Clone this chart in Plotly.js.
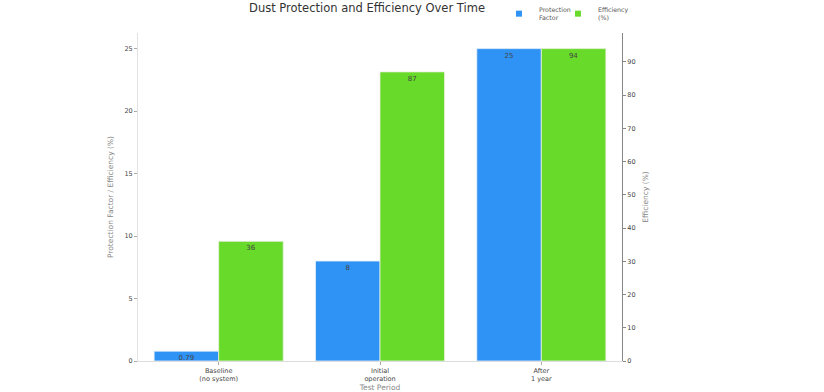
<!DOCTYPE html>
<html><head><meta charset="utf-8">
<script src="https://cdn.plot.ly/plotly-3.0.1.min.js"></script>
<style>html,body{margin:0;padding:0;background:#fff}</style>
</head><body><div id="chart" style="width:824px;height:392px"></div>
<script>
const categories = ["Baseline<br>(no system)", "Initial<br>operation", "After<br>1 year"];
const protectionFactor = [0.79, 8, 25];
const efficiency = [36, 87, 94];
const protLabels = ["0.79", "8", "25"];
const effLabels = ["36", "87", "94"];
const seriesNames = ["Protection<br>Factor", "Efficiency<br>(%)"];
const seriesColors = ["#2F93F5", "#68DA29"];

const font = "DejaVu Sans, sans-serif";
const traces = [
  {type:"bar", name:seriesNames[0], x:categories, y:protectionFactor, yaxis:"y", showlegend:false,
   width:0.4, offset:-0.4, marker:{color:seriesColors[0], line:{color:"#e8f0f8", width:0.8}},
   text:protLabels, textposition:"inside", insidetextanchor:"end", textangle:0, constraintext:"none",
   textfont:{size:7, color:"#444", family:font}, cliponaxis:false},
  {type:"bar", name:seriesNames[1], x:categories, y:efficiency, yaxis:"y2", showlegend:false,
   width:0.4, offset:0, marker:{color:seriesColors[1], line:{color:"#e8f0e0", width:0.8}},
   text:effLabels, textposition:"inside", insidetextanchor:"end", textangle:0, constraintext:"none",
   textfont:{size:7, color:"#444", family:font}, cliponaxis:false},
  {type:"scatter", mode:"markers", name:seriesNames[0], x:[null], y:[null], hoverinfo:"skip", legend:"legend",
   marker:{symbol:"square", size:6, color:seriesColors[0]}},
  {type:"scatter", mode:"markers", name:seriesNames[1], x:[null], y:[null], hoverinfo:"skip", legend:"legend2",
   marker:{symbol:"square", size:6, color:seriesColors[1]}}
];
const legendBase = {orientation:"h", xanchor:"left", y:1.058, yanchor:"middle",
  font:{size:6.3, color:"#555", family:font}, itemwidth:30, bgcolor:"rgba(0,0,0,0)"};
const layout = {
  width:824, height:392,
  margin:{l:138, r:202, t:33, b:31, autoexpand:false},
  paper_bgcolor:"#fff", plot_bgcolor:"#fff",
  font:{family:font, color:"#444"},
  title:{text:"Dust Protection and Efficiency Over Time", xref:"container", x:0.4454, xanchor:"center",
         y:0.979, yanchor:"middle", font:{size:11.5, color:"#333", family:font}},
  showlegend:true,
  legend:Object.assign({}, legendBase, {x:0.7458}),
  legend2:Object.assign({}, legendBase, {x:0.8677}),
  xaxis:{range:[-0.5,2.5], showline:true, linecolor:"#ddd", linewidth:1, ticks:"outside", ticklen:3,
         tickcolor:"#aaa", tickfont:{size:6.5, color:"#444"}, showgrid:false, automargin:true,
         title:{text:"Test Period", font:{size:7.5, color:"#888"}, standoff:12}},
  yaxis:{range:[0,26.25], showline:true, linecolor:"#e2e2e2", linewidth:1, ticks:"outside", ticklen:3,
         tickcolor:"#aaa", tickfont:{size:6.5, color:"#444"}, showgrid:false, zeroline:false, dtick:5,
         automargin:true,
         title:{text:"Protection Factor / Efficiency (%)", font:{size:7.5, color:"#888"}, standoff:9}},
  yaxis2:{range:[0,98.7], overlaying:"y", side:"right", showline:true, linecolor:"#888", linewidth:1,
          ticks:"outside", ticklen:3, tickcolor:"#888", tickfont:{size:6.5, color:"#444"}, showgrid:false,
          zeroline:false, dtick:10, automargin:true,
          title:{text:"Efficiency (%)", font:{size:7.5, color:"#888"}, standoff:8}}
};
Plotly.newPlot("chart", traces, layout, {displayModeBar:false, staticPlot:true});
</script></body></html>
